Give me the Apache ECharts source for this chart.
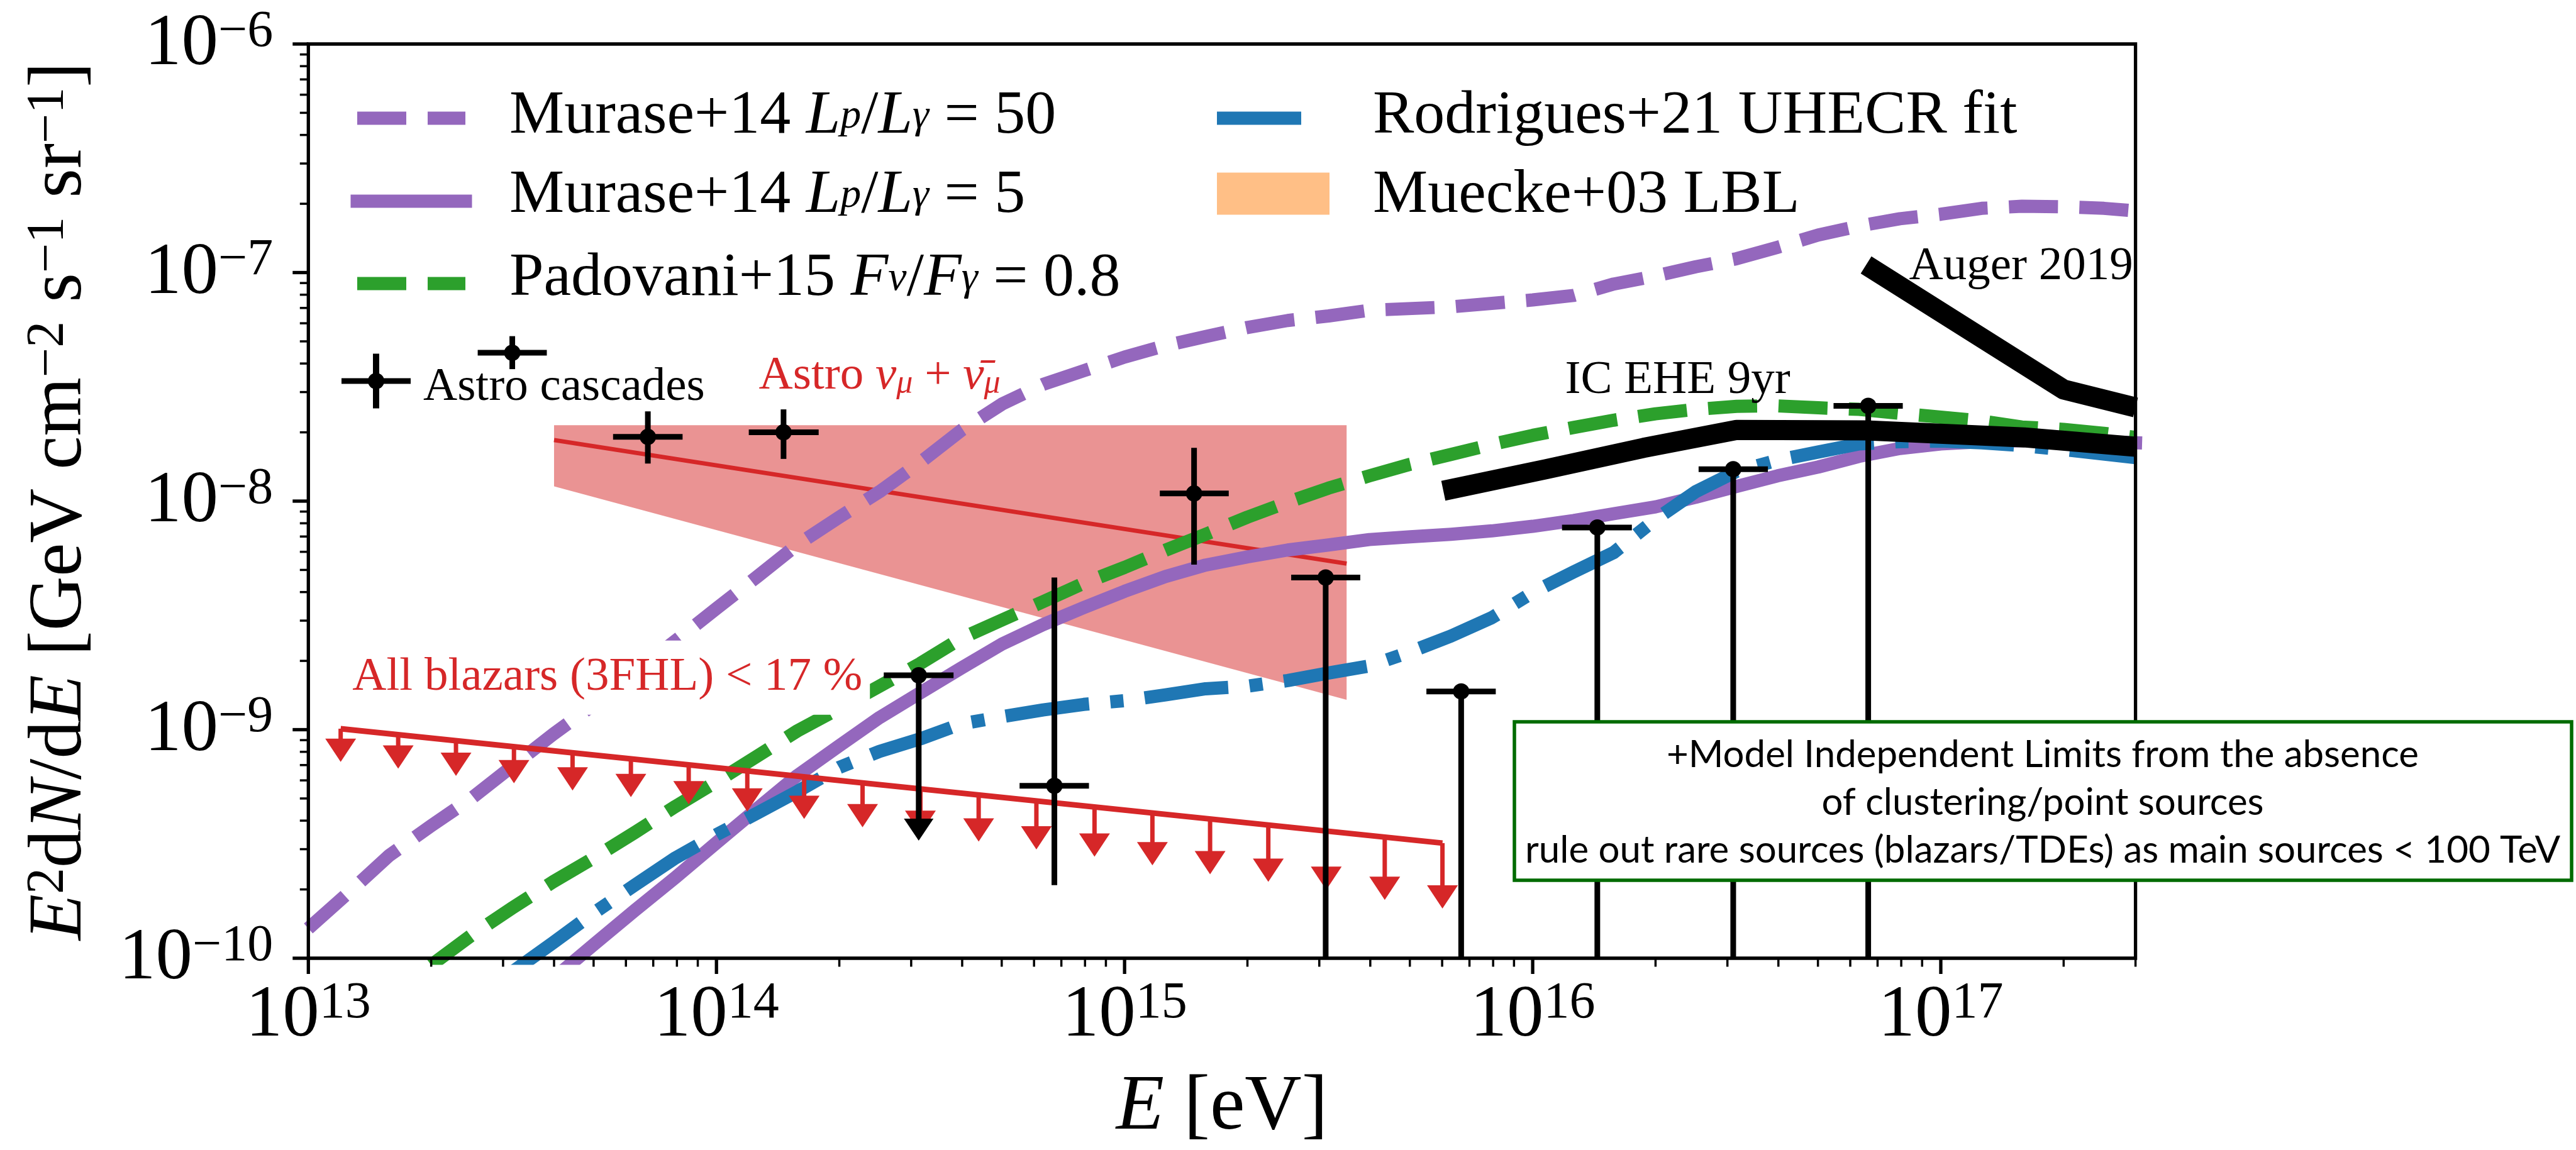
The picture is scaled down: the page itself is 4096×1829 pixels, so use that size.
<!DOCTYPE html>
<html>
<head>
<meta charset="utf-8">
<script src="https://cdn.jsdelivr.net/npm/echarts@6/dist/echarts.min.js"></script>
<style>
  html, body { margin: 0; padding: 0; background: #fff; }
  #chart { width: 4096px; height: 1829px; }
</style>
</head>
<body>
<div id="chart"></div>
<script>
// ---- Model curves: [E (eV), E^2 dN/dE (GeV cm^-2 s^-1 sr^-1)] ----
const murase50 = [
  [1.0e13, 1.35e-10], [1.26e13, 1.95e-10], [1.58e13, 2.82e-10], [2.0e13, 3.80e-10],
  [2.51e13, 5.01e-10], [3.16e13, 6.92e-10], [3.98e13, 9.55e-10], [5.01e13, 1.29e-9],
  [6.31e13, 1.78e-9], [7.94e13, 2.45e-9], [1.0e14, 3.39e-9], [1.26e14, 4.68e-9],
  [1.58e14, 6.46e-9], [2.0e14, 8.51e-9], [2.51e14, 1.10e-8], [3.16e14, 1.48e-8],
  [3.98e14, 2.04e-8], [5.01e14, 2.66e-8], [6.31e14, 3.24e-8], [7.94e14, 3.72e-8],
  [1.0e15, 4.27e-8], [1.26e15, 4.79e-8], [1.58e15, 5.25e-8], [2.0e15, 5.75e-8],
  [2.51e15, 6.17e-8], [3.16e15, 6.46e-8], [3.98e15, 6.84e-8], [6.31e15, 7.08e-8],
  [1.0e16, 7.59e-8], [1.26e16, 7.94e-8], [1.58e16, 8.91e-8], [2.0e16, 9.66e-8],
  [2.51e16, 1.06e-7], [3.16e16, 1.15e-7], [3.98e16, 1.29e-7], [5.01e16, 1.46e-7],
  [6.31e16, 1.60e-7], [7.94e16, 1.72e-7], [1.0e17, 1.80e-7], [1.26e17, 1.91e-7],
  [1.58e17, 1.95e-7], [2.0e17, 1.94e-7], [2.51e17, 1.91e-7], [3.0e17, 1.86e-7]
];
const murase5 = [
  [3.98e13, 8.13e-11], [5.01e13, 1.15e-10], [6.31e13, 1.62e-10], [7.94e13, 2.26e-10],
  [1.0e14, 3.20e-10], [1.26e14, 4.52e-10], [1.58e14, 6.31e-10], [2.0e14, 8.51e-10],
  [2.51e14, 1.13e-9], [3.16e14, 1.45e-9], [3.98e14, 1.86e-9], [5.01e14, 2.37e-9],
  [6.31e14, 2.88e-9], [7.94e14, 3.42e-9], [1.0e15, 4.03e-9], [1.26e15, 4.68e-9],
  [1.58e15, 5.25e-9], [2.0e15, 5.70e-9], [2.51e15, 6.11e-9], [3.16e15, 6.43e-9],
  [3.98e15, 6.79e-9], [5.01e15, 6.98e-9], [6.31e15, 7.16e-9], [7.94e15, 7.41e-9],
  [1.0e16, 7.76e-9], [1.26e16, 8.22e-9], [1.58e16, 8.81e-9], [2.0e16, 9.44e-9],
  [2.51e16, 1.04e-8], [3.16e16, 1.16e-8], [3.98e16, 1.29e-8], [5.01e16, 1.41e-8],
  [6.31e16, 1.57e-8], [7.94e16, 1.70e-8], [1.0e17, 1.78e-8], [1.26e17, 1.82e-8],
  [1.58e17, 1.84e-8], [2.0e17, 1.84e-8], [3.0e17, 1.80e-8]
];
const padovani = [
  [2.0e13, 9.33e-11], [2.51e13, 1.26e-10], [3.16e13, 1.66e-10], [3.98e13, 2.16e-10],
  [5.01e13, 2.75e-10], [6.31e13, 3.55e-10], [7.94e13, 4.62e-10], [1.0e14, 5.92e-10],
  [1.26e14, 7.67e-10], [1.58e14, 9.89e-10], [2.0e14, 1.24e-9], [2.51e14, 1.55e-9],
  [3.16e14, 1.95e-9], [3.98e14, 2.51e-9], [5.01e14, 3.02e-9], [6.31e14, 3.63e-9],
  [7.94e14, 4.37e-9], [1.0e15, 5.13e-9], [1.26e15, 6.10e-9], [1.58e15, 7.16e-9],
  [2.0e15, 8.51e-9], [2.51e15, 9.89e-9], [3.16e15, 1.14e-8], [3.98e15, 1.29e-8],
  [5.01e15, 1.45e-8], [6.31e15, 1.60e-8], [7.94e15, 1.77e-8], [1.0e16, 1.94e-8],
  [1.26e16, 2.10e-8], [1.58e16, 2.26e-8], [2.0e16, 2.41e-8], [2.51e16, 2.52e-8],
  [3.16e16, 2.60e-8], [3.98e16, 2.61e-8], [5.01e16, 2.56e-8], [6.31e16, 2.52e-8],
  [7.94e16, 2.42e-8], [1.0e17, 2.33e-8], [1.26e17, 2.24e-8], [1.58e17, 2.11e-8],
  [2.0e17, 2.06e-8], [2.51e17, 1.98e-8], [3.0e17, 1.90e-8]
];
const rodrigues = [
  [3.16e13, 8.71e-11], [3.98e13, 1.17e-10], [5.01e13, 1.58e-10], [6.31e13, 2.09e-10],
  [7.94e13, 2.75e-10], [1.0e14, 3.47e-10], [1.26e14, 4.32e-10], [1.58e14, 5.37e-10],
  [2.0e14, 6.84e-10], [2.51e14, 8.04e-10], [3.16e14, 9.12e-10], [3.98e14, 1.06e-9],
  [5.01e14, 1.14e-9], [6.31e14, 1.22e-9], [7.94e14, 1.29e-9], [1.0e15, 1.34e-9],
  [1.26e15, 1.42e-9], [1.58e15, 1.51e-9], [2.0e15, 1.55e-9], [2.51e15, 1.64e-9],
  [3.16e15, 1.77e-9], [3.98e15, 1.90e-9], [5.01e15, 2.19e-9], [6.31e15, 2.57e-9],
  [7.94e15, 3.09e-9], [1.0e16, 3.98e-9], [1.26e16, 4.90e-9], [1.58e16, 5.96e-9],
  [2.0e16, 8.32e-9], [2.51e16, 1.10e-8], [3.16e16, 1.35e-8], [3.98e16, 1.51e-8],
  [5.01e16, 1.64e-8], [6.31e16, 1.78e-8], [7.94e16, 1.82e-8], [1.0e17, 1.83e-8],
  [1.26e17, 1.80e-8], [1.58e17, 1.75e-8], [2.0e17, 1.68e-8], [3.0e17, 1.55e-8]
];

// ---- Experimental limits ----
const icEhe = [
  [6.04e15, 1.11e-8], [1.08e16, 1.38e-8], [1.87e16, 1.71e-8], [3.16e16, 2.05e-8],
  [6.56e16, 2.04e-8], [1.60e17, 1.90e-8], [3.0e17, 1.73e-8]
];
const auger = [[6.56e16, 1.08e-7], [2.0e17, 3.08e-8], [3.0e17, 2.57e-8]];

// Astrophysical muon-neutrino fit and its uncertainty band: [E, upper, lower]
const astroFit = [[4.0e13, 1.85e-8], [3.5e15, 5.33e-9]];
const astroBand = [[4.0e13, 2.15e-8, 1.16e-8], [3.5e15, 2.15e-8, 1.35e-9]];

// Blazar stacking upper limit: line plus arrows [E, top, arrow tip]
const blazarLine = [[1.20e13, 1.01e-9], [6.01e15, 3.19e-10]];
const blazarArrows = [
  [1.20e13, 1.01e-9, 7.23e-10], [1.66e13, 9.51e-10, 6.75e-10], [2.30e13, 8.94e-10, 6.28e-10],
  [3.19e13, 8.42e-10, 5.83e-10], [4.44e13, 7.93e-10, 5.42e-10], [6.17e13, 7.45e-10, 5.07e-10],
  [8.55e13, 7.02e-10, 4.71e-10], [1.19e14, 6.61e-10, 4.38e-10], [1.64e14, 6.21e-10, 4.07e-10],
  [2.28e14, 5.85e-10, 3.74e-10], [3.16e14, 5.51e-10, 3.50e-10], [4.39e14, 5.18e-10, 3.24e-10],
  [6.08e14, 4.88e-10, 2.99e-10], [8.44e14, 4.59e-10, 2.78e-10], [1.17e15, 4.32e-10, 2.55e-10],
  [1.62e15, 4.07e-10, 2.33e-10], [2.25e15, 3.83e-10, 2.16e-10], [3.12e15, 3.61e-10, 1.99e-10],
  [4.34e15, 3.39e-10, 1.80e-10], [6.01e15, 3.19e-10, 1.65e-10]
];

// Cascade spectrum points: [E, flux, E_low, E_high, flux_low, flux_high, upperLimit]
// flux_low = 0 means the error bar reaches zero.
const cascades = [
  [3.16e13, 4.46e-8, 2.60e13, 3.84e13, 3.78e-8, 5.27e-8, 0],
  [6.79e13, 1.91e-8, 5.58e13, 8.26e13, 1.46e-8, 2.47e-8, 0],
  [1.46e14, 2.00e-8, 1.20e14, 1.78e14, 1.53e-8, 2.52e-8, 0],
  [3.13e14, 1.73e-9, 2.57e14, 3.81e14, 3.27e-10, 1.73e-9, 1],
  [6.73e14, 5.68e-10, 5.53e14, 8.18e14, 2.09e-10, 4.63e-9, 0],
  [1.48e15, 1.08e-8, 1.22e15, 1.80e15, 5.27e-9, 1.71e-8, 0],
  [3.11e15, 4.63e-9, 2.56e15, 3.78e15, 0, 4.63e-9, 0],
  [6.68e15, 1.47e-9, 5.49e15, 8.12e15, 0, 1.47e-9, 0],
  [1.44e16, 7.67e-9, 1.18e16, 1.75e16, 0, 7.67e-9, 0],
  [3.10e16, 1.38e-8, 2.55e16, 3.77e16, 0, 1.38e-8, 0],
  [6.64e16, 2.61e-8, 5.46e16, 8.07e16, 0, 2.61e-8, 0]
];

// Text annotations anchored in data coordinates: [E, flux, textIndex]
const annotations = [
  [1.27e14, 3.52e-8, 0],
  [1.22e13, 1.69e-9, 1],
  [1.20e16, 3.37e-8, 2],
  [8.36e16, 1.06e-7, 3]
];

// ---- Axis ticks ----
const xMajor = [1e13, 1e14, 1e15, 1e16, 1e17];
const xMinor = [
  2e13, 3e13, 4e13, 5e13, 6e13, 7e13, 8e13, 9e13,
  2e14, 3e14, 4e14, 5e14, 6e14, 7e14, 8e14, 9e14,
  2e15, 3e15, 4e15, 5e15, 6e15, 7e15, 8e15, 9e15,
  2e16, 3e16, 4e16, 5e16, 6e16, 7e16, 8e16, 9e16,
  2e17, 3e17
];
const yMajor = [1e-10, 1e-9, 1e-8, 1e-7, 1e-6];
const yMinor = [
  2e-10, 3e-10, 4e-10, 5e-10, 6e-10, 7e-10, 8e-10, 9e-10,
  2e-9, 3e-9, 4e-9, 5e-9, 6e-9, 7e-9, 8e-9, 9e-9,
  2e-8, 3e-8, 4e-8, 5e-8, 6e-8, 7e-8, 8e-8, 9e-8,
  2e-7, 3e-7, 4e-7, 5e-7, 6e-7, 7e-7, 8e-7, 9e-7
];
const X_MIN = 1e13, X_MAX = 3e17, Y_MIN = 1e-10, Y_MAX = 1e-6;

// ---- Layout & style ----
const W = 4096, H = 1829;
const G = { left: 490.3, top: 70, right: 700.4, bottom: 305 };
const GW = W - G.left - G.right, GH = H - G.top - G.bottom;
const SERIF = 'Liberation Serif';
const C = {
  purple: '#9467bd', green: '#2ca02c', blue: '#1f77b4', red: '#d62728',
  band: 'rgba(214,39,40,0.5)', orange: 'rgba(255,127,14,0.5)', box: '#006b00'
};
const LW = 21;
const DASH = [78, 34];
const DASHDOT = [134, 34, 21, 34];

const tickRich = {
  b: { fontSize: 117, fontFamily: SERIF, lineHeight: 120, verticalAlign: 'bottom', color: '#000' },
  s: { fontSize: 82, fontFamily: SERIF, lineHeight: 64, verticalAlign: 'top', color: '#000' }
};
function powerLabel(v) {
  const e = Math.log10(v), r = Math.round(e);
  if (Math.abs(e - r) > 1e-6) return '';
  return '{b|10}{s|' + (r < 0 ? '\u2212' + (-r) : r) + '}';
}

// Legend entries (two columns), drawn as graphic elements
const legendRich = {
  n: { fontSize: 98, fontFamily: SERIF, lineHeight: 67, fill: '#000' },
  i: { fontSize: 98, fontFamily: SERIF, fontStyle: 'italic', lineHeight: 67, fill: '#000' },
  sub: { fontSize: 66, fontFamily: SERIF, fontStyle: 'italic', lineHeight: 11, verticalAlign: 'bottom', fill: '#000' }
};
const legendEntries = [
  { text: '{n|Murase+14 }{i|L}{sub|p}{n|/}{i|L}{sub|\u03b3}{n| = 50}', kind: 'line', color: C.purple, dash: DASH, cap: 'butt', col: 0, row: 0 },
  { text: '{n|Murase+14 }{i|L}{sub|p}{n|/}{i|L}{sub|\u03b3}{n| = 5}', kind: 'line', color: C.purple, dash: null, cap: 'square', col: 0, row: 1 },
  { text: '{n|Padovani+15 }{i|F}{sub|\u03bd}{n|/}{i|F}{sub|\u03b3}{n| = 0.8}', kind: 'line', color: C.green, dash: DASH, cap: 'butt', col: 0, row: 2 },
  { text: '{n|Rodrigues+21 UHECR fit}', kind: 'line', color: C.blue, dash: [134, 60], cap: 'butt', col: 1, row: 0 },
  { text: '{n|Muecke+03 LBL}', kind: 'patch', color: C.orange, col: 1, row: 1 }
];
const LEG = {
  colX: [568, 1935], handleW: [172, 179], textX: [810, 2183],
  rowY: [188, 320, 451], textY: [185, 311, 443], patchY: 308, patchH: 67
};

function legendGraphics() {
  const out = [];
  legendEntries.forEach(e => {
    const x0 = LEG.colX[e.col], w = LEG.handleW[e.col];
    if (e.kind === 'line') {
      const y = LEG.rowY[e.row];
      out.push({ type: 'line', silent: true, z: 60, shape: { x1: x0, y1: y, x2: x0 + w, y2: y },
        style: { stroke: e.color, lineWidth: LW, lineDash: e.dash, lineCap: e.cap } });
    } else {
      out.push({ type: 'rect', silent: true, z: 60,
        shape: { x: x0, y: LEG.patchY - LEG.patchH / 2, width: w, height: LEG.patchH },
        style: { fill: e.color } });
    }
    out.push({ type: 'text', silent: true, z: 60, x: LEG.textX[e.col], y: LEG.textY[e.row],
      style: { text: e.text, rich: legendRich, align: 'left', verticalAlign: 'middle', fontSize: 98, fontFamily: SERIF, lineHeight: 67 } });
  });
  // error-bar handle for the cascade points
  const cx = 598, cy = 606;
  out.push({ type: 'group', silent: true, z: 60, children: [
    { type: 'line', shape: { x1: cx - 55, y1: cy, x2: cx + 55, y2: cy }, style: { stroke: '#000', lineWidth: 9 } },
    { type: 'line', shape: { x1: cx, y1: cy - 43.5, x2: cx, y2: cy + 43.5 }, style: { stroke: '#000', lineWidth: 10 } },
    { type: 'circle', shape: { cx, cy, r: 13 }, style: { fill: '#000' } },
    { type: 'text', x: 673, y: 616, style: { text: 'Astro cascades', align: 'left', verticalAlign: 'middle', fontSize: 75, fontFamily: SERIF, fill: '#000', lineHeight: 75 } }
  ] });
  return out;
}

const annoRich = {
  n: { fontSize: 75, fontFamily: SERIF, lineHeight: 75, fill: C.red },
  i: { fontSize: 75, fontFamily: SERIF, fontStyle: 'italic', lineHeight: 75, fill: C.red },
  sub: { fontSize: 52, fontFamily: SERIF, fontStyle: 'italic', lineHeight: 31, verticalAlign: 'bottom', fill: C.red }
};
const annoText = [
  { text: '{n|Astro }{i|\u03bd}{sub|\u03bc}{n| + }{i|\u03bd\u0304}{sub|\u03bc}', rich: annoRich },
  { text: 'All blazars (3FHL) < 17 %', fill: C.red, bg: '#fff', padding: [15, 12, 28, 14] },
  { text: 'IC EHE 9yr', fill: '#000' },
  { text: 'Auger 2019', fill: '#000' }
];

function modelLine(name, data, color, type, cap, z) {
  return {
    type: 'line', name, data, z,
    symbol: 'none', showSymbol: false, smooth: false, clip: true,
    lineStyle: { color, width: LW, type, cap: cap || 'butt', join: 'round' },
    itemStyle: { color }, emphasis: { disabled: true }, silent: true
  };
}

const chart = echarts.init(document.getElementById('chart'), null, { renderer: 'canvas', width: W, height: H });

const option = {
  animation: false,
  backgroundColor: '#fff',
  grid: { left: G.left, top: G.top, right: G.right, bottom: G.bottom, containLabel: false, outerBoundsMode: 'none', show: false },
  xAxis: {
    type: 'log', logBase: 10, min: X_MIN, max: X_MAX,
    axisLine: { show: false }, axisTick: { show: false }, splitLine: { show: false },
    axisLabel: { show: true, margin: 31, formatter: powerLabel, rich: tickRich, hideOverlap: false },
    name: '{i|E}{n| [eV]}', nameLocation: 'middle', nameGap: 176, nameMoveOverlap: false,
    nameTextStyle: {
      rich: {
        i: { fontSize: 125, fontFamily: SERIF, fontStyle: 'italic', lineHeight: 125, color: '#000' },
        n: { fontSize: 125, fontFamily: SERIF, lineHeight: 125, color: '#000' }
      }
    }
  },
  yAxis: {
    type: 'log', logBase: 10, min: Y_MIN, max: Y_MAX,
    axisLine: { show: false }, axisTick: { show: false }, splitLine: { show: false },
    axisLabel: { show: true, margin: 56, formatter: powerLabel, rich: tickRich, hideOverlap: false },
    name: '{i|E}{sup|2}{n|d}{i|N}{n|/d}{i|E}{n| [GeV cm}{sup|\u22122}{n| s}{sup|\u22121}{n| sr}{sup|\u22121}{n|]}',
    nameLocation: 'middle', nameRotate: 90, nameGap: 334, nameMoveOverlap: false,
    nameTextStyle: {
      rich: {
        i: { fontSize: 120, fontFamily: SERIF, fontStyle: 'italic', lineHeight: 120, color: '#000' },
        n: { fontSize: 120, fontFamily: SERIF, lineHeight: 120, color: '#000' },
        sup: { fontSize: 84, fontFamily: SERIF, lineHeight: 56, verticalAlign: 'top', color: '#000' }
      }
    }
  },
  series: [
    // uncertainty band of the muon-neutrino fit
    {
      type: 'custom', name: 'astroBand', data: astroBand, z: 1, clip: true, silent: true,
      renderItem(params, api) {
        if (params.dataIndex !== 0) return null;
        const top = astroBand.map(d => api.coord([d[0], d[1]]));
        const bot = astroBand.map(d => api.coord([d[0], d[2]])).reverse();
        return { type: 'polygon', shape: { points: top.concat(bot) }, style: { fill: C.band } };
      }
    },
    {
      type: 'line', name: 'astroFit', data: astroFit, z: 2, symbol: 'none', silent: true,
      lineStyle: { color: C.red, width: 7 }
    },
    modelLine('Murase+14 Lp/L\u03b3 = 50', murase50, C.purple, DASH, 'butt', 3),
    modelLine('Murase+14 Lp/L\u03b3 = 5', murase5, C.purple, 'solid', 'square', 3),
    modelLine('Padovani+15 F\u03bd/F\u03b3 = 0.8', padovani, C.green, DASH, 'butt', 3),
    modelLine('Rodrigues+21 UHECR fit', rodrigues, C.blue, DASHDOT, 'butt', 3),
    // blazar stacking upper limit
    {
      type: 'line', name: 'blazarLine', data: blazarLine, z: 4, symbol: 'none', silent: true,
      lineStyle: { color: C.red, width: 9 }
    },
    {
      type: 'custom', name: 'blazarArrows', data: blazarArrows, z: 4, clip: true, silent: true,
      renderItem(params, api) {
        const E = api.value(0);
        const t = api.coord([E, api.value(1)]);
        const b = api.coord([E, api.value(2)]);
        const head = 37, hw = 24.5;
        return {
          type: 'group', children: [
            { type: 'line', shape: { x1: t[0], y1: t[1], x2: t[0], y2: b[1] - head + 2 }, style: { stroke: C.red, lineWidth: 7 } },
            { type: 'polygon', shape: { points: [[b[0] - hw, b[1] - head], [b[0] + hw, b[1] - head], [b[0], b[1]]] }, style: { fill: C.red } }
          ]
        };
      }
    },
    // experimental limits
    {
      type: 'line', name: 'IC EHE 9yr', data: icEhe, z: 4, symbol: 'none', silent: true,
      lineStyle: { color: '#000', width: 32, cap: 'butt', join: 'round' }
    },
    {
      type: 'line', name: 'Auger 2019', data: auger, z: 4, symbol: 'none', silent: true,
      lineStyle: { color: '#000', width: 32, cap: 'butt', join: 'round' }
    },
    // cascade data points with error bars
    {
      type: 'custom', name: 'Astro cascades', data: cascades, z: 5, clip: true, silent: true,
      itemStyle: { color: '#000' },
      renderItem(params, api) {
        const cs = params.coordSys;
        const E = api.value(0), F = api.value(1);
        const c = api.coord([E, F]);
        const l = api.coord([api.value(2), F]);
        const r = api.coord([api.value(3), F]);
        const flo = api.value(4);
        const loY = flo > 0 ? api.coord([E, flo])[1] : cs.y + cs.height;
        const hiY = api.coord([E, api.value(5)])[1];
        const lim = api.value(6) === 1;
        const st = { stroke: '#000', lineWidth: 9 };
        const ch = [{ type: 'line', shape: { x1: l[0], y1: c[1], x2: r[0], y2: c[1] }, style: st }];
        if (lim) {
          const th = 35, tw = 23.5;
          ch.push({ type: 'line', shape: { x1: c[0], y1: c[1], x2: c[0], y2: loY - th + 2 }, style: st });
          ch.push({ type: 'polygon', shape: { points: [[c[0] - tw, loY - th], [c[0] + tw, loY - th], [c[0], loY]] }, style: { fill: '#000' } });
        } else {
          ch.push({ type: 'line', shape: { x1: c[0], y1: hiY, x2: c[0], y2: loY }, style: st });
        }
        ch.push({ type: 'circle', shape: { cx: c[0], cy: c[1], r: 13 }, style: { fill: '#000' } });
        return { type: 'group', children: ch };
      }
    },
    // annotations
    {
      type: 'custom', name: 'annotations', data: annotations, z: 6, clip: false, silent: true,
      renderItem(params, api) {
        const p = api.coord([api.value(0), api.value(1)]);
        const a = annoText[api.value(2)];
        const style = {
          text: a.text, x: 0, y: 0, align: 'left', verticalAlign: 'middle',
          fontSize: 75, fontFamily: SERIF, fill: a.fill || C.red, lineHeight: 75
        };
        if (a.rich) style.rich = a.rich;
        if (a.bg) { style.backgroundColor = a.bg; style.padding = a.padding; }
        return { type: 'text', x: p[0], y: p[1], style };
      }
    },
    // axis ticks (outward, major and minor)
    {
      type: 'custom', name: 'xTicks', z: 50, clip: false, silent: true,
      data: xMajor.map(v => [v, Y_MIN, 1]).concat(xMinor.map(v => [v, Y_MIN, 0])),
      renderItem(params, api) {
        const p = api.coord([api.value(0), api.value(1)]);
        const major = api.value(2) === 1;
        return { type: 'line', shape: { x1: p[0], y1: p[1], x2: p[0], y2: p[1] + (major ? 25 : 13.5) },
          style: { stroke: '#000', lineWidth: major ? 5.3 : 3.5 } };
      }
    },
    {
      type: 'custom', name: 'yTicks', z: 50, clip: false, silent: true,
      data: yMajor.map(v => [X_MIN, v, 1]).concat(yMinor.map(v => [X_MIN, v, 0])),
      renderItem(params, api) {
        const p = api.coord([api.value(0), api.value(1)]);
        const major = api.value(2) === 1;
        return { type: 'line', shape: { x1: p[0], y1: p[1], x2: p[0] - (major ? 25 : 13.5), y2: p[1] },
          style: { stroke: '#000', lineWidth: major ? 5.3 : 3.5 } };
      }
    }
  ],
  graphic: [
    // axes frame
    {
      type: 'rect', z: 50, silent: true,
      shape: { x: G.left, y: G.top, width: GW, height: GH },
      style: { fill: 'none', stroke: '#000', lineWidth: 5.3 }
    },
    ...legendGraphics(),
    // boxed note
    {
      type: 'group', z: 100, silent: true,
      children: [
        { type: 'rect', z: 100, shape: { x: 2408, y: 1148, width: 1681, height: 252 },
          style: { fill: '#fff', stroke: C.box, lineWidth: 5.5 } },
        { type: 'text', z: 101, x: 3248, y: 1277,
          style: {
            text: '+Model Independent Limits from the absence\nof clustering/point sources\nrule out rare sources (blazars/TDEs) as main sources < 100 TeV',
            align: 'center', verticalAlign: 'middle', fontSize: 60, fontWeight: 400,
            fontFamily: 'Lato', lineHeight: 76, fill: '#000'
          } }
      ]
    }
  ]
};

chart.setOption(option);
</script>
</body>
</html>
